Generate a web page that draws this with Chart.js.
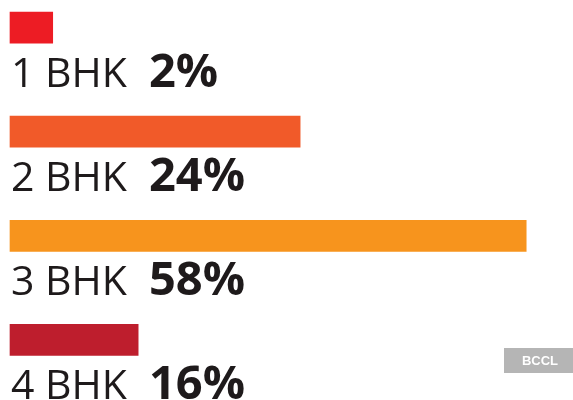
<!DOCTYPE html>
<html>
<head>
<meta charset="utf-8">
<script src="https://cdn.jsdelivr.net/npm/chart.js@4/dist/chart.umd.min.js"></script>
<style>
  html, body { margin: 0; padding: 0; background: #ffffff; }
  #wrap { position: relative; width: 573px; height: 400px; }
</style>
</head>
<body>
<div id="wrap"><canvas id="c"></canvas></div>
<script>
// Categories and values
const categories = ['1 BHK', '2 BHK', '3 BHK', '4 BHK'];
const shares = ['2%', '24%', '58%', '16%'];          // printed share labels
const barLengths = [4.8, 32.6, 58, 14.4];              // drawn bar lengths (relative to the 58% bar)
const barColors = ['#ED1C24', '#F15A29', '#F7941D', '#BE1E2D'];
const watermark = 'BCCL';

const labelPlugin = {
  id: 'rowLabels',
  afterDatasetsDraw(chart) {
    const ctx = chart.ctx;
    const meta = chart.getDatasetMeta(0);
    const x0 = chart.scales.x.getPixelForValue(0);
    ctx.save();
    ctx.textBaseline = 'alphabetic';
    ctx.textAlign = 'left';
    meta.data.forEach((bar, i) => {
      const base = bar.y + 59;
      ctx.fillStyle = '#1E1A1B';
      ctx.font = '41px "Open Sans"';
      ctx.fillText(categories[i], x0 + 1, base);
      ctx.font = 'bold 47px "Open Sans"';
      ctx.fillText(shares[i], x0 + 139, base);
    });
    // watermark
    ctx.fillStyle = '#B5B5B5';
    ctx.fillRect(504, 348, 69, 25);
    ctx.fillStyle = '#FFFFFF';
    ctx.font = 'bold 13px "Liberation Sans"';
    ctx.textAlign = 'center';
    ctx.textBaseline = 'middle';
    ctx.fillText(watermark, 540, 361);
    ctx.restore();
  }
};

new Chart(document.getElementById('c'), {
  type: 'bar',
  data: {
    labels: categories,
    datasets: [{
      data: barLengths,
      backgroundColor: barColors,
      borderWidth: 0,
      barThickness: 31,
      clip: false
    }]
  },
  options: {
    indexAxis: 'y',
    responsive: true,
    maintainAspectRatio: false,
    animation: false,
    layout: { padding: { left: 10, right: 29, top: 27.6, bottom: 60.1 } },
    plugins: { legend: { display: false }, tooltip: { enabled: false } },
    scales: {
      x: { type: 'linear', min: 0, max: 60, display: false },
      y: { type: 'category', offset: false, display: false, grid: { display: false } }
    }
  },
  plugins: [labelPlugin]
});
</script>
</body>
</html>
